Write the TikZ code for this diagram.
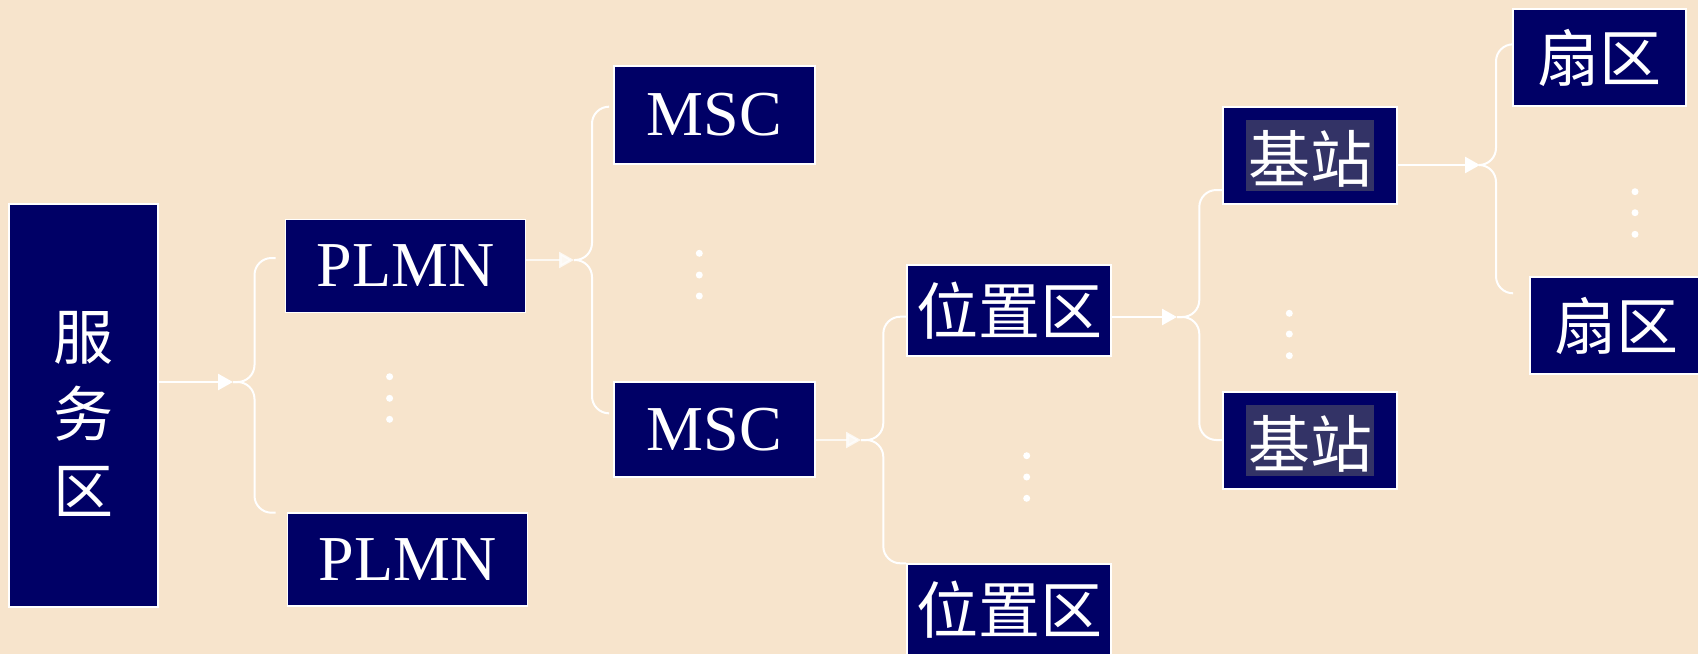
\documentclass[tikz,border=0pt]{standalone}
\usepackage{fontspec}
\setmainfont{Liberation Serif}
\newfontfamily\cjk{Noto Sans CJK SC}
\usetikzlibrary{arrows.meta,calc}
\definecolor{bg}{RGB}{247,228,204}
\definecolor{navy}{RGB}{0,0,102}
\definecolor{hl}{RGB}{51,51,102}
\begin{document}
\begin{tikzpicture}[x=1pt,y=-1pt,
  box/.style={draw=white, line width=1.8pt, fill=navy, text=white, inner sep=0pt},
  lat/.style={font=\fontsize{64}{64}\selectfont},
  zh/.style={font=\cjk\fontsize{62}{62}\selectfont},
  conn/.style={draw=white, line width=2.5pt, -{Triangle[length=15pt,width=16pt]}},
  faded/.style={opacity=0.75},
  brace/.style={draw=white, line width=2pt, rounded corners=17pt},
  dotmark/.style={fill=white}]
\fill[bg] (0,0) rectangle (1698,654);
\useasboundingbox (0,0) rectangle (1698,654);

% boxes
\node[box, font=\cjk\fontsize{60}{77}\selectfont, minimum width=149pt, minimum height=403pt] (fwq) at (83.5,405.5)
  {\raisebox{-8pt}[\height][\depth]{\parbox{64pt}{\centering 服\\务\\区}}};
\node[box, lat, minimum width=240pt, minimum height=93pt] (plmn1) at (405.5,266) {PLMN};
\node[box, lat, minimum width=240pt, minimum height=93pt] (plmn2) at (407.5,559.3) {PLMN};
\node[box, lat, minimum width=201pt, minimum height=98pt] (msc1) at (714.5,115) {MSC};
\node[box, lat, minimum width=201pt, minimum height=95pt] (msc2) at (714.5,429.5) {MSC};
\node[box, zh, minimum width=204pt, minimum height=91pt] (wzq1) at (1009,310.5) {位置区};
\node[box, zh, minimum width=204pt, minimum height=91pt] (wzq2) at (1009,609.5) {位置区};
\node[box, zh, minimum width=174pt, minimum height=97pt] (jz1) at (1310,155.5)
  {{\setlength{\fboxsep}{0pt}\colorbox{hl}{\makebox[128pt]{\rule[-8.3pt]{0pt}{70.7pt}基站}}}};
\node[box, zh, minimum width=174pt, minimum height=97pt] (jz2) at (1310,440.5)
  {{\setlength{\fboxsep}{0pt}\colorbox{hl}{\makebox[128pt]{\rule[-8.3pt]{0pt}{70.7pt}基站}}}};
\node[box, zh, minimum width=173pt, minimum height=97pt] (sq1) at (1599.5,57.7) {扇区};
\node[box, zh, minimum width=173pt, minimum height=97pt] (sq2) at (1616.5,325.5) {扇区};

% brace coordinates
\coordinate (t1) at (233,382);   \coordinate (a1) at (275.5,258);  \coordinate (b1) at (275.5,512.7);
\coordinate (t2) at (574,260);   \coordinate (a2) at (608,106.7);  \coordinate (b2) at (608,413.3);
\coordinate (t3) at (861,440);   \coordinate (a3) at (906,316.7);  \coordinate (b3) at (906,563.3);
\coordinate (t4) at (1177,317);  \coordinate (a4) at (1222.7,190); \coordinate (b4) at (1222,440);
\coordinate (t5) at (1480,165);  \coordinate (a5) at (1512,44.3);  \coordinate (b5) at (1512.7,293.3);

% braces
\draw[brace] (a1) -| ([xshift=21.5pt]t1) -- (t1);
\draw[brace] (t1) -- ([xshift=21.5pt]t1) |- (b1);
\draw[brace] (a2) -| ([xshift=18pt]t2) -- (t2);
\draw[brace] (t2) -- ([xshift=18pt]t2) |- (b2);
\draw[brace] (a3) -| ([xshift=22.3pt]t3) -- (t3);
\draw[brace] (t3) -- ([xshift=22.3pt]t3) |- (b3);
\draw[brace] (a4) -| ([xshift=22.3pt]t4) -- (t4);
\draw[brace] (t4) -- ([xshift=22.3pt]t4) |- (b4);
\draw[brace] (a5) -| ([xshift=16pt]t5) -- (t5);
\draw[brace] (t5) -- ([xshift=16pt]t5) |- (b5);

% arrows
\draw[conn] (fwq.east |- t1) -- (t1);
\draw[conn, faded] (plmn1.east |- t2) -- (t2);
\draw[conn, faded] (msc2.east |- t3) -- (t3);
\draw[conn] (wzq1.east |- t4) -- (t4);
\draw[conn] (jz1.east |- t5) -- (t5);

% vertical dots
\foreach \x/\ya/\yb/\yc in {389.6/376.7/398.3/419.3, 699.3/253.3/275/296, 1026.7/455.7/477/498.3, 1289.3/313.3/334/355.7, 1635/191.7/212.7/234.3}{
  \fill[dotmark] (\x,\ya) circle (3.5pt);
  \fill[dotmark] (\x,\yb) circle (3.5pt);
  \fill[dotmark] (\x,\yc) circle (3.5pt);
}
\end{tikzpicture}
\end{document}
